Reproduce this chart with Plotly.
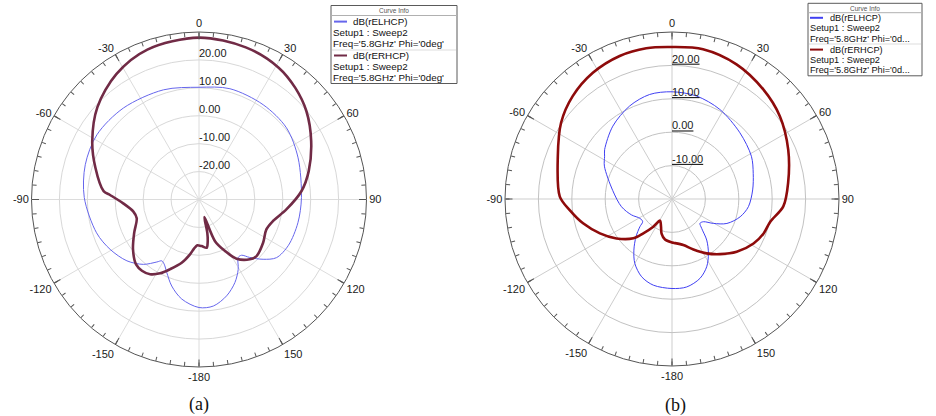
import plotly.graph_objects as go

# ---------------- data ----------------
# panel (a)
theta_a_lhcp = [-180, -170.2, -162.5, -156.2, -151.7, -148.8, -146.0, -139.4, -130.4, -119.3,
                -108.0, -89.0, -73.0, -57.6, -39.5, -18.0, 0.0, 15.6, 34.1, 50.7,
                67.2, 89.0, 103.2, 117.1, 126.9, 133.0, 138.8, 142.7, 146.0, 150.7, 156.6,
                164.0, 172.3, 180]
r_a_lhcp = [8.7, 6.2, 2.5, -1.4, -3.7, -4.3, -3.0, 0.6, 3.9, 6.5,
            8.6, 11.1, 12.6, 13.3, 12.5, 11.3, 10.2, 11.2, 11.0, 10.5,
            8.5, 6.7, 6.4, 6.0, 4.7, 1.4, -2.4, -4.9, -4.9, -1.3, 2.4,
            5.9, 8.5, 8.7]

theta_a_rhcp = [-180, -177.9, -174.2, -170.7, -164.7, -157.5, -152.2, -146.8, -141.3, -135.9,
                -127.0, -117.2, -106.8, -100.5, -92.9, -87.1, -85.0, -73.0, -61.3, -47.7,
                -33.4, -19.0, 0, 17.1, 31.0, 40.8, 50.6, 62.5, 75.5, 85.4,
                96.5, 106.2, 113.9, 124.0, 134.5, 139.6, 147.6, 153.3, 159.0, 163.0, 166.0,
                168.7, 171.0, 176.7, 180]
r_a_rhcp = [-13.5, -13.6, -12.3, -10.1, -6.5, -3.0, -0.1, 2.0, 2.7, 2.4,
            -0.4, -3.9, -6.7, -6.1, -2.8, 1.9, 4.3, 8.8, 13.6, 19.2,
            23.8, 26.8, 28.0, 27.0, 25.2, 22.8, 19.8, 15.3, 10.6, 6.8,
            1.5, -2.4, -3.6, -2.3, -1.1, -1.9, -4.9, -9.4, -14.0, -23.4, -17.7,
            -14.2, -12.5, -13.3, -13.5]

# panel (b)
theta_b_lhcp = [-180, -167.8, -158.7, -150.1, -143.3, -136.3, -130.8, -127.7, -121.1, -111.6,
                -98.7, -82.0, -64.1, -57.6, -53.8, -39.1, -24.5, -12.1, 0, 13.3, 28.1, 45.7,
                61.7, 72.5, 83.6, 95.7, 104.6, 114.0, 120.5, 125.9, 131.0, 134.7, 139.8,
                146.2, 152.9, 160.6, 170.5, 180]
r_b_lhcp = [6.8, 6.4, 5.0, 2.3, -0.9, -4.4, -7.3, -8.9, -8.8, -7.0,
            -4.7, -2.1, 2.5, 3.9, 5.0, 8.1, 10.6, 12.0, 12.1, 11.7, 10.4, 8.4,
            7.0, 5.5, 4.3, 3.0, 1.1, -2.0, -5.6, -8.4, -8.9, -7.5, -3.9,
            -0.4, 2.8, 5.2, 6.7, 6.8]

theta_b_rhcp = [-180, -170.2, -163.2, -158.3, -151.0, -146.0, -140.1, -135.5, -125.4, -115.5,
                -105.3, -96.2, -88.8, -69.5, -55.5, -44.0, -32.1, -20.1, -9.7, 0, 11.7, 25.6,
                39.8, 52.5, 67.0, 82.1, 93.8, 103.0, 110.6, 118.6, 129.2, 138.9, 147.5, 157.0,
                166.2, 178.3, 180]
r_b_rhcp = [-7.0, -7.7, -9.2, -11.1, -12.6, -10.0, -6.6, -3.5, 0.4, 3.9,
            7.6, 10.8, 13.6, 16.5, 20.3, 22.8, 24.6, 25.6, 25.8, 25.5, 25.8, 24.7,
            22.7, 20.7, 17.8, 15.1, 13.4, 10.2, 9.3, 7.8, 5.0, 1.9, -0.7, -3.6,
            -5.8, -6.9, -7.0]

angle_ticks = [0, 30, 60, 90, 120, 150, 180, 210, 240, 270, 300, 330]
angle_labels = ["0", "30", "60", "90", "120", "150", "-180", "-150", "-120", "-90", "-60", "-30"]
minor_angle_ticks = list(range(0, 360, 5))

radial_a_ticks = [-20, -10, 0, 10, 20]
radial_a_labels = ["-20.00", "-10.00", "0.00", "10.00", "20.00"]
radial_b_ticks = [-10, 0, 10, 20]
radial_b_labels = ["-10.00", "0.00", "10.00", "20.00"]

series_names = ["dB(rELHCP)", "dB(rERHCP)"]
setup_text = "Setup1 : Sweep2"
freq_a_text = "Freq='5.8GHz' Phi='0deg'"
freq_b_text = "Freq='5.8GHz' Phi='0d..."

# ---------------- styling ----------------
W, H = 936, 416
FONT = "Arial, 'Liberation Sans', sans-serif"
SERIF = "'Times New Roman', 'Liberation Serif', serif"
BLUE_A, MAROON_A = "#6666ec", "#712b46"
BLUE_B, RED_B = "#4040f2", "#8e0b0b"


def px(x):
    return x / W


def py(y):
    return 1 - y / H


fig = go.Figure()

panels = [
    dict(main="polar", over="polar2", cx=199, cy=199.5, R=167.5, rng=[-30, 30],
         rt=radial_a_ticks, rl=radial_a_labels, ring="#d8d8d8", spoke="#dcdcdc",
         under=False, th1=theta_a_lhcp, r1=r_a_lhcp, th2=theta_a_rhcp, r2=r_a_rhcp,
         c1=BLUE_A, c2=MAROON_A),
    dict(main="polar3", over="polar4", cx=672, cy=199, R=167, rng=[-20, 30],
         rt=radial_b_ticks, rl=radial_b_labels, ring="#c2c2c2", spoke="#cdcdcd",
         under=True, th1=theta_b_lhcp, r1=r_b_lhcp, th2=theta_b_rhcp, r2=r_b_rhcp,
         c1=BLUE_B, c2=RED_B),
]

layout_polars = {}
for p in panels:
    dom = dict(x=[px(p["cx"] - p["R"]), px(p["cx"] + p["R"])],
               y=[py(p["cy"] + p["R"]), py(p["cy"] - p["R"])])
    fig.add_trace(go.Scatterpolar(theta=p["th1"], r=p["r1"], mode="lines", name=series_names[0],
                                  line=dict(color=p["c1"], width=1, shape="spline", smoothing=0.9),
                                  subplot=p["main"], showlegend=False))
    fig.add_trace(go.Scatterpolar(theta=p["th2"], r=p["r2"], mode="lines", name=series_names[1],
                                  line=dict(color=p["c2"], width=2.6, shape="spline", smoothing=0.9),
                                  subplot=p["main"], showlegend=False))
    for rv, t in zip(p["rt"], p["rl"]):
        label = f"<span style='text-decoration:underline'>{t}</span>" if p["under"] else t
        fig.add_trace(go.Scatterpolar(theta=[0], r=[rv], mode="text", text=[label],
                                      textposition="top right", hoverinfo="skip", cliponaxis=False,
                                      textfont=dict(family=FONT, size=11, color="#1a1a1a"),
                                      subplot=p["main"], showlegend=False))
    fig.add_trace(go.Scatterpolar(theta=[], r=[], mode="lines", subplot=p["over"],
                                  showlegend=False, hoverinfo="skip"))
    layout_polars[p["main"]] = dict(
        domain=dom, bgcolor="white",
        angularaxis=dict(rotation=90, direction="clockwise", tickmode="array",
                         tickvals=angle_ticks, ticktext=angle_labels, ticks="inside",
                         ticklen=7, tickwidth=1, tickcolor="#555", showline=True,
                         linecolor="#555", linewidth=1, showgrid=True, gridcolor=p["spoke"],
                         gridwidth=1, tickfont=dict(family=FONT, size=11, color="#1a1a1a")),
        radialaxis=dict(range=p["rng"], tickmode="array", tickvals=p["rt"],
                        showticklabels=False, ticks="", showline=False, showgrid=True,
                        gridcolor=p["ring"], gridwidth=1, angle=90),
    )
    layout_polars[p["over"]] = dict(
        domain=dom, bgcolor="rgba(0,0,0,0)",
        angularaxis=dict(rotation=90, direction="clockwise", tickmode="array",
                         tickvals=minor_angle_ticks, ticks="inside", ticklen=4, tickwidth=1,
                         tickcolor="#555", showticklabels=False, showgrid=False, showline=False),
        radialaxis=dict(visible=False, range=p["rng"]),
    )

shapes = []
annotations = []


def curve_info(x0, x1, y0, y1, yhead, ysep, size, head_y, lines, colors, sym_x, txt_x1, txt_x):
    shapes.append(dict(type="rect", xref="paper", yref="paper", x0=px(x0), x1=px(x1),
                       y0=py(y1), y1=py(y0), line=dict(color="#5a5a5a", width=1),
                       fillcolor="white", layer="above"))
    shapes.append(dict(type="line", xref="paper", yref="paper", x0=px(x0), x1=px(x1),
                       y0=py(yhead), y1=py(yhead), line=dict(color="#b0b0b0", width=1)))
    shapes.append(dict(type="line", xref="paper", yref="paper", x0=px(x0 + 1), x1=px(x1 - 1),
                       y0=py(ysep), y1=py(ysep), line=dict(color="#dddddd", width=1)))
    annotations.append(dict(text="Curve Info", x=px((x0 + x1) / 2), y=py(head_y), xref="paper",
                            yref="paper", showarrow=False, xanchor="center", yanchor="middle",
                            borderpad=0, font=dict(family=FONT, size=6.5, color="#555")))
    for (texts, ys), col in zip(lines, colors):
        shapes.append(dict(type="line", xref="paper", yref="paper", x0=px(sym_x[0]), x1=px(sym_x[1]),
                           y0=py(ys[0]), y1=py(ys[0]), line=dict(color=col, width=2)))
        for i, (t, yy) in enumerate(zip(texts, ys)):
            annotations.append(dict(text=t, x=px(txt_x1 if i == 0 else txt_x), y=py(yy),
                                    xref="paper", yref="paper", showarrow=False,
                                    xanchor="left", yanchor="middle", borderpad=0,
                                    font=dict(family=FONT, size=size, color="#111")))


curve_info(331, 457, 5.5, 83.5, 15.5, 50, 9.8, 10.5,
           [([series_names[0], setup_text, freq_a_text], [21.6, 32.8, 44.0]),
            ([series_names[1], setup_text, freq_a_text], [55.5, 66.7, 77.9])],
           [BLUE_A, MAROON_A], (334, 347), 352, 332)
curve_info(808, 922, 3.3, 75.8, 12.7, 44, 9.2, 8,
           [([series_names[0], setup_text, freq_b_text], [17.8, 28.2, 38.6]),
            ([series_names[1], setup_text, freq_b_text], [49.6, 60.0, 70.4])],
           [BLUE_B, RED_B], (810, 823), 829, 809)

annotations.append(dict(text="(a)", x=px(199), y=py(404), xref="paper", yref="paper",
                        xanchor="center", yanchor="middle", showarrow=False,
                        font=dict(family=SERIF, size=18, color="#111")))
annotations.append(dict(text="(b)", x=px(675), y=py(405), xref="paper", yref="paper",
                        xanchor="center", yanchor="middle", showarrow=False,
                        font=dict(family=SERIF, size=18, color="#111")))

fig.update_layout(width=W, height=H, margin=dict(l=0, r=0, t=0, b=0), autosize=False,
                  paper_bgcolor="white", showlegend=False, shapes=shapes,
                  annotations=annotations, **layout_polars)

fig.write_html("out.html")
